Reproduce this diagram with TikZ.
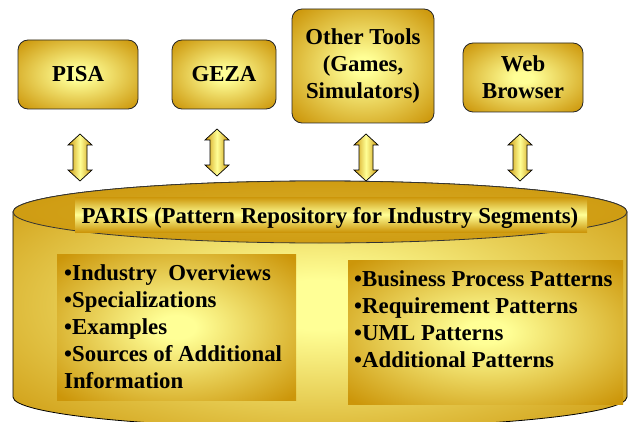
\documentclass[tikz,border=0pt]{standalone}
\usepackage{fontspec}
\setmainfont{Liberation Serif}[BoldFont={Liberation Serif Bold}]
\definecolor{gold}{RGB}{204,150,10}
\definecolor{pale}{RGB}{255,255,150}
\pgfdeclareradialshading{glow}{\pgfpoint{0bp}{0bp}}{color(0bp)=(pale); color(4bp)=(pale); color(34bp)=(gold); color(50bp)=(gold)}
\pgfdeclareradialshading{bodyglow}{\pgfpoint{0bp}{0bp}}{color(0bp)=(pale); color(5bp)=(pale); color(36bp)=(gold); color(50bp)=(gold)}
\pgfdeclareradialshading{lidglow}{\pgfpoint{0bp}{0bp}}{color(0bp)=(gold!80!pale); color(36bp)=(gold); color(50bp)=(gold)}
\tikzset{
  bigfont/.style={font=\fontsize{22.8}{27}\selectfont\bfseries},
  toolbox/.style={draw=black!85, line width=0.8pt, rounded corners=10pt,
    shading=glow, bigfont, align=center, inner sep=0pt},
  listbox/.style={shading=glow, draw=none, inner sep=0pt},
  listtext/.style={bigfont, align=left, inner sep=0pt, anchor=north west},
  arrowfill/.style={draw=black, line width=0.7pt, left color=gold,
    right color=gold, middle color=pale},
  pics/updown/.style={code={
    \path[arrowfill] (0,0) -- (12,11) -- (7,11) -- (7,36) -- (12,36)
      -- (0,47) -- (-12,36) -- (-7,36) -- (-7,11) -- (-12,11) -- cycle;}}
}
\begin{document}
\begin{tikzpicture}[x=1pt,y=-1pt]
\useasboundingbox (0,0) rectangle (628,422);

% tools on top
\node[toolbox, minimum width=120, minimum height=69] (pisa) at (78,74.5) {PISA};
\node[toolbox, minimum width=104, minimum height=69] (geza) at (224,74.5) {GEZA};
\node[toolbox, minimum width=142, minimum height=114] (other) at (363,66)
  {Other Tools\\(Games,\\Simulators)};
\node[toolbox, minimum width=120, minimum height=69] (web) at (523,77.5)
  {Web\\Browser};

% two-way arrows between tools and repository
\pic at (80,134) {updown};
\pic at (217,129) {updown};
\pic at (366,134) {updown};
\pic at (520,134) {updown};

% repository cylinder
\draw[black, line width=0.8pt, shading=bodyglow]
  (13,212) -- (13,397) arc[start angle=180, end angle=360, x radius=307pt, y radius=31pt]
  -- (627,212) arc[start angle=0, end angle=180, x radius=307pt, y radius=31pt] -- cycle;
\draw[black!80, line width=0.8pt, shading=lidglow]
  (320,212) ellipse[x radius=307pt, y radius=31pt];

% repository title
\path[top color=gold, bottom color=gold, middle color=pale] (75,197) rectangle (587,232);
\node[bigfont, inner sep=0pt, anchor=base] (paris) at (330,223)
  {PARIS (Pattern Repository for Industry Segments)};

% repository contents
\path[listbox] (57,254) rectangle (296,400);
\node[listtext] (content) at (64,264.6)
  {•Industry~\ Overviews\\•Specializations\\•Examples\\•Sources of Additional\\Information};
\path[listbox] (348,260) rectangle (623,404);
\node[listtext] (patterns) at (354,270.9)
  {•Business Process Patterns\\•Requirement Patterns\\•UML Patterns\\•Additional Patterns};
\end{tikzpicture}
\end{document}
